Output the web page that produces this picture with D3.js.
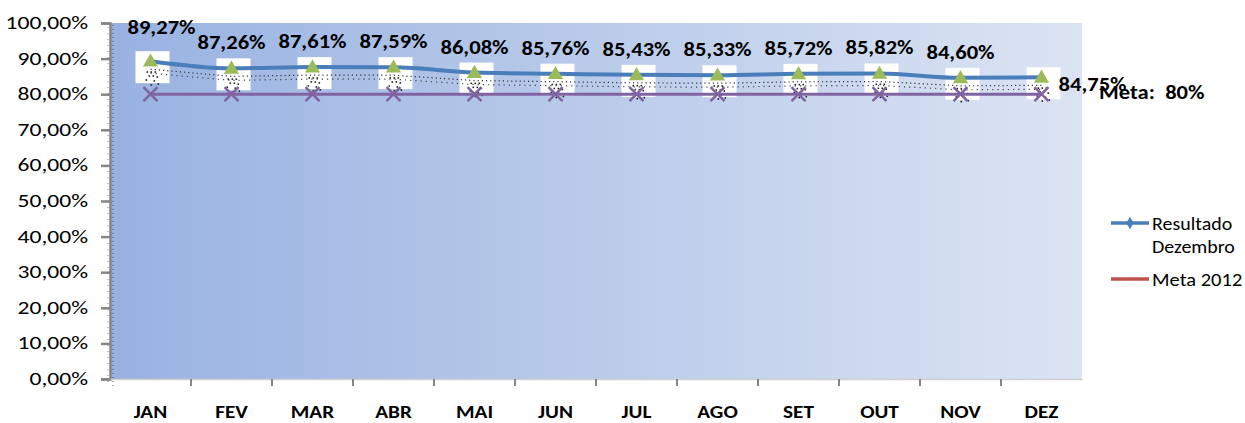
<!DOCTYPE html>
<html>
<head>
<meta charset="utf-8">
<script src="https://cdn.jsdelivr.net/npm/d3@7"></script>
<style>
  body { margin: 0; background: #fff; }
  text { font-family: Carlito, Calibri, "Liberation Sans", Arial, sans-serif; white-space: pre; }
</style>
</head>
<body>
<script>
const width = 1245;
const height = 423;
const margin = { top: 23, right: 163, bottom: 44, left: 110 };

const months = ["JAN", "FEV", "MAR", "ABR", "MAI", "JUN", "JUL", "AGO", "SET", "OUT", "NOV", "DEZ"];
const resultado = [89.27, 87.26, 87.61, 87.59, 86.08, 85.76, 85.43, 85.33, 85.72, 85.82, 84.60, 84.75];
const meta = [80, 80, 80, 80, 80, 80, 80, 80, 80, 80, 80, 80];
const yTicks = [0, 10, 20, 30, 40, 50, 60, 70, 80, 90, 100];

const fmt = (v) => v.toFixed(2).replace(".", ",") + "%";

// text in the picture is wider than plain Calibri, so stretch it a bit
function stretched(parent, px, py, sx, txt) {
  return parent.append("text")
    .attr("transform", `translate(${px},${py}) scale(${sx},1)`)
    .text(txt);
}

const svg = d3.select("body").append("svg")
  .attr("width", width)
  .attr("height", height);

const defs = svg.append("defs");
const grad = defs.append("linearGradient")
  .attr("id", "bg")
  .attr("x1", "0%").attr("y1", "0%")
  .attr("x2", "100%").attr("y2", "0%");
grad.append("stop").attr("offset", "0%").attr("stop-color", "#98b2e1");
grad.append("stop").attr("offset", "100%").attr("stop-color", "#dce4f3");

const x = d3.scaleBand()
  .domain(months)
  .range([margin.left, width - margin.right]);

const y = d3.scaleLinear()
  .domain([0, 100])
  .range([height - margin.bottom, margin.top]);

const cx = (d) => x(d) + x.bandwidth() / 2;

// plot area
svg.append("rect")
  .attr("x", margin.left)
  .attr("y", y(100))
  .attr("width", x.range()[1] - margin.left)
  .attr("height", y(0) - y(100))
  .attr("fill", "url(#bg)");

// dotted edge on the left
svg.append("line")
  .attr("x1", margin.left + 3).attr("x2", margin.left + 3)
  .attr("y1", y(100) + 2).attr("y2", y(0) + 8)
  .attr("stroke", "#555")
  .attr("stroke-width", 1)
  .attr("stroke-dasharray", "1,3");
svg.append("line")
  .attr("x1", margin.left - 2).attr("x2", margin.left - 2)
  .attr("y1", y(100) + 4).attr("y2", y(0) + 8)
  .attr("stroke", "#888")
  .attr("stroke-width", 1)
  .attr("stroke-dasharray", "1,5");

// y axis
const yAxis = svg.append("g")
  .attr("transform", `translate(${margin.left},0)`)
  .call(d3.axisLeft(y).tickValues(yTicks).tickSize(9).tickFormat(""));
yAxis.select(".domain").attr("stroke", "#868686").attr("stroke-width", 2.5);
yAxis.selectAll(".tick line").attr("stroke", "#868686").attr("stroke-width", 2.5).attr("x2", -9);

svg.append("g")
  .attr("text-anchor", "end")
  .attr("font-size", 19)
  .selectAll("g")
  .data(yTicks)
  .join("g")
  .each(function (d) {
    stretched(d3.select(this), 88, y(d) + 6, 1.24, fmt(d));
  });

// x axis
const xAxis = svg.append("g")
  .attr("transform", `translate(0,${y(0)})`)
  .call(d3.axisBottom(x).tickSize(0).tickFormat(""));
xAxis.select(".domain").attr("stroke", "#d0d0d0").attr("stroke-width", 1.5);

svg.append("g")
  .selectAll("line")
  .data(months.slice(1))
  .join("line")
  .attr("x1", (d) => x(d)).attr("x2", (d) => x(d))
  .attr("y1", y(0)).attr("y2", y(0) + 7)
  .attr("stroke", "#868686")
  .attr("stroke-width", 2);

svg.append("g")
  .attr("text-anchor", "middle")
  .attr("font-size", 18)
  .attr("font-weight", "bold")
  .selectAll("g")
  .data(months)
  .join("g")
  .each(function (d) {
    stretched(d3.select(this), cx(d), 418, 1.18, d);
  });

// white boxes behind points
svg.append("g")
  .selectAll("rect")
  .data(months)
  .join("rect")
  .attr("x", (d) => cx(d) - 15)
  .attr("y", (d, i) => y(resultado[i]) - 10)
  .attr("width", 34)
  .attr("height", 32)
  .attr("fill", "#fff");

// dotted band between the lines
svg.append("path")
  .datum(resultado)
  .attr("d", d3.line().x((d, i) => cx(months[i])).y((d) => y(d) + 8))
  .attr("fill", "none")
  .attr("stroke", "#333")
  .attr("stroke-width", 1.2)
  .attr("stroke-dasharray", "1.2,3");
svg.append("path")
  .datum(resultado)
  .attr("d", d3.line().x((d, i) => cx(months[i])).y((d) => y(d) + 12))
  .attr("fill", "none")
  .attr("stroke", "#444")
  .attr("stroke-width", 1.2)
  .attr("stroke-dasharray", "1.2,4");

// stipple inside boxes
const stip = svg.append("g");
months.forEach((m, i) => {
  const bx = cx(m), by = y(resultado[i]);
  [[-4, 10], [0, 10], [4, 10], [-2, 14], [2, 14], [6, 15], [-5, 18], [3, 19], [7, 22], [0, 23]].forEach(([dx, dy]) => {
    stip.append("rect")
      .attr("x", bx + dx).attr("y", by + dy)
      .attr("width", 1.6).attr("height", 1.6)
      .attr("fill", "#222");
  });
});

// meta line
svg.append("path")
  .datum(meta)
  .attr("d", d3.line().x((d, i) => cx(months[i])).y((d) => y(d)))
  .attr("fill", "none")
  .attr("stroke", "#8064a2")
  .attr("stroke-width", 3);

svg.append("g")
  .selectAll("path")
  .data(meta)
  .join("path")
  .attr("d", (d, i) => {
    const px = cx(months[i]), py = y(d), s = 7;
    return `M${px - s},${py - s}L${px + s},${py + s}M${px - s},${py + s}L${px + s},${py - s}`;
  })
  .attr("stroke", "#8064a2")
  .attr("stroke-width", 2.5);

// resultado line
svg.append("path")
  .datum(resultado)
  .attr("d", d3.line().x((d, i) => cx(months[i])).y((d) => y(d)).curve(d3.curveMonotoneX))
  .attr("fill", "none")
  .attr("stroke", "#4a7ebb")
  .attr("stroke-width", 4);

svg.append("g")
  .selectAll("path")
  .data(resultado)
  .join("path")
  .attr("transform", (d, i) => `translate(${cx(months[i])},${y(d) + 1})`)
  .attr("d", d3.symbol(d3.symbolTriangle, 100))
  .attr("fill", "#9bbb59");

// data labels
const last = months.length - 1;
svg.append("g")
  .attr("font-size", 20)
  .attr("font-weight", "bold")
  .selectAll("g")
  .data(resultado)
  .join("g")
  .each(function (d, i) {
    const t = i === last
      ? stretched(d3.select(this), cx(months[i]) + 17, y(d) + 14, 1.13, fmt(d))
      : stretched(d3.select(this), cx(months[i]) + (i === 0 ? 11 : 0), y(d) - (i === 0 ? 27 : 19), 1.13, fmt(d));
    t.attr("text-anchor", i === last ? "start" : "middle");
  });

stretched(svg, 1099, 99, 1.13, "Meta:  80%")
  .attr("font-size", 20)
  .attr("font-weight", "bold");

// legend
const lg = svg.append("g").attr("font-size", 19);
lg.append("line")
  .attr("x1", 1111).attr("x2", 1149)
  .attr("y1", 223).attr("y2", 223)
  .attr("stroke", "#4a7ebb").attr("stroke-width", 3.5);
lg.append("path")
  .attr("transform", "translate(1130,223)")
  .attr("d", d3.symbol(d3.symbolDiamond, 45))
  .attr("fill", "#4a7ebb");
stretched(lg, 1152, 230, 1.05, "Resultado");
stretched(lg, 1152, 253, 1.05, "Dezembro");
lg.append("line")
  .attr("x1", 1111).attr("x2", 1149)
  .attr("y1", 279).attr("y2", 279)
  .attr("stroke", "#c0504d").attr("stroke-width", 3.5);
stretched(lg, 1152, 286, 1.08, "Meta 2012");
</script>
</body>
</html>
